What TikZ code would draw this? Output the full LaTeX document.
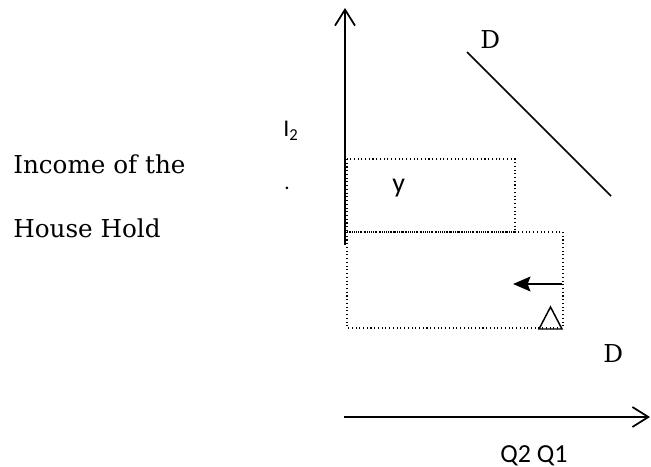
\documentclass[tikz,border=0pt]{standalone}
\usepackage{fontspec}
\usetikzlibrary{arrows.meta}
\newfontfamily\bkfont{DejaVu Serif}
\newfontfamily\calibfont{Carlito}
\begin{document}
\begin{tikzpicture}[x=0.75pt,y=-0.75pt,
  axis/.style={line width=1.8pt,-{Straight Barb[length=12pt,width=15pt,line width=1.3pt]}},
  dotbox/.style={line width=0.8pt,dotted},
  serif/.style={font=\bkfont\fontsize{18.5}{20}\selectfont,inner sep=0pt},
  sans/.style={font=\calibfont\fontsize{19.5}{22}\selectfont,inner sep=0pt}]
\useasboundingbox (0,0) rectangle (651,467);
% axes
\coordinate (yb) at (345,245);
\coordinate (yt) at (345,8);
\coordinate (xl) at (344,417);
\coordinate (xr) at (650,417);
\draw[axis] (yb) -- (yt);
\draw[axis] (xl) -- (xr);
% dotted boxes
\draw[dotbox] (347,159) rectangle (515,232);
\draw[dotbox] (347,232) rectangle (563,328);
% demand line
\coordinate (d1) at (467,52);
\coordinate (d2) at (611,196);
\draw[line width=1.1pt] (d1) -- (d2);
% small arrow
\coordinate (a1) at (562,284);
\coordinate (a2) at (513,284);
\draw[line width=1.6pt,-{Stealth[length=13pt,width=11pt,inset=2pt]}] (a1) -- (a2);
% triangle
\draw[line width=1.1pt,line join=miter] (539,329) -- (562,329) -- (550.5,307) -- cycle;
% labels
\node[serif,anchor=base west] (inc) at (13,174) {Income of the};
\node[serif,anchor=base west] (hh) at (13,238) {House Hold};
\node[serif,anchor=base west] (dtop) at (480,49) {D};
\node[serif,anchor=base west] (dbot) at (603,362) {D};
\node[font=\calibfont\fontsize{21}{24}\selectfont,inner sep=0pt,anchor=base west] (yl) at (392,193) {y};
\node[sans,anchor=base west] (q) at (500,462) {Q2 Q1};
\node[font=\calibfont\fontsize{18}{20}\selectfont,inner sep=0pt,anchor=base west] (i2) at (283,137) {I\raisebox{-0.3ex}{\fontsize{12.5}{14}\selectfont 2}};
\node[font=\calibfont\fontsize{16}{18}\selectfont,inner sep=0pt,anchor=base west] (dot) at (284,190) {.};
\end{tikzpicture}
\end{document}
